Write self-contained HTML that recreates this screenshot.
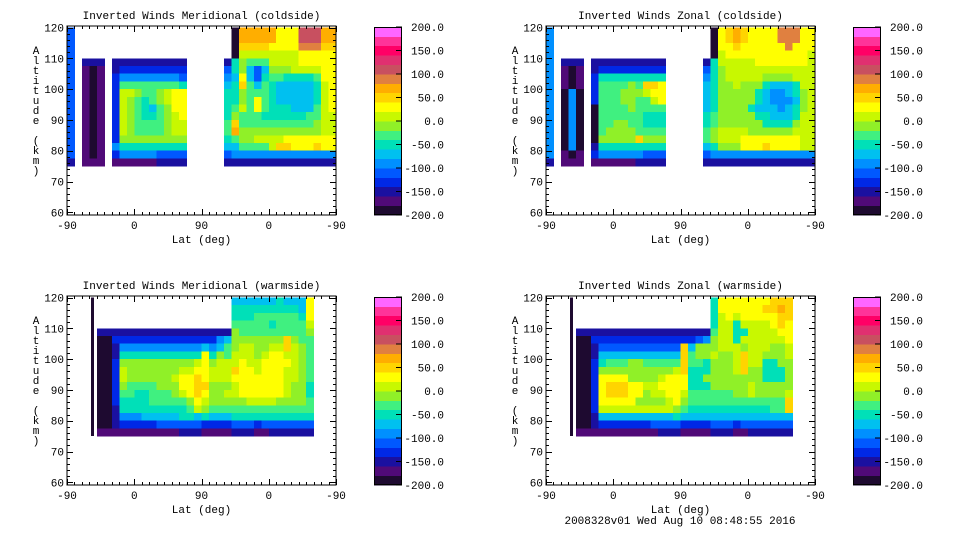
<!DOCTYPE html>
<html><head><meta charset="utf-8"><style>
html,body{margin:0;padding:0;background:#fff;}
svg{display:block;}
text{font-family:"Liberation Mono",monospace;font-size:11px;fill:#000;}
</style></head><body>
<svg id="fig" width="960" height="540" viewBox="0 0 960 540" xmlns="http://www.w3.org/2000/svg">
<rect x="0" y="0" width="960" height="540" fill="#fff"/>
<text x="680" y="524" text-anchor="middle">2008328v01 Wed Aug 10 08:48:55 2016</text>
</svg>
<script>
// level codes a..t => band centres
const levelValues = [-190,-170,-150,-130,-110,-90,-70,-50,-30,-10,10,30,50,70,90,110,130,150,170,190];
const levelColors = ["#1e0a30","#500a78","#1a10a0","#0028e6","#0058ff","#0090ff","#00c0f0","#00e0b8","#40f080","#90f028","#c8f800","#ffff00","#ffd400","#ffae00","#e08040","#c85060","#e03070","#ff0066","#ff3399","#ff66ff"];
const altitudeTicks = [60,70,80,90,100,110,120];
const latTickLabels = ["-90","0","90","0","-90"];
const colorbarTicks = [200,150,100,50,0,-50,-100,-150,-200];
const panelTitles = ["Inverted Winds Meridional (coldside)","Inverted Winds Zonal (coldside)","Inverted Winds Meridional (warmside)","Inverted Winds Zonal (warmside)"];
// thin single-orbit line (degrees along track, top alt, bottom alt) per panel; null = none
const orbitLines = [null, null, [34, 120, 75], [34, 120, 75]];
// grids: 36 lat bins (10 deg) x 18 altitude bins (120 -> 75 km, 2.5 km)
const gridMeridCold = [
"e . ... . .......... ..... . a nnnnnlllpppnn",
"e . ... . .......... ..... . a nnnnnlllpppnn",
"e . ... . .......... ..... . a mmmmllllooomm",
"e . ... . .......... ..... . a kkkkkkkklllll",
"e . ccc . cccccccccc ..... c h jiiikkkklllll",
"e . bab . cddddddddd ..... e h jgegjjjkkkkll",
"e . bab . dffffffffe ..... f g lgehiihhhhill",
"e . bab . diiiiiiiih ..... g h migihggggghkl",
"e . bab . dkkjiijkll ..... h h jiiihggggghkl",
"e . bab . dkjihijkll ..... h h jilihggggghkl",
"e . bab . dkjihgijll ..... h i kilihhhgggikl",
"e . bab . dkjihhijkl ..... h j iiihhhhhhiikk",
"e . bab . dkjiiiijkk ..... i m iiiiiiiiiijkk",
"e . bab . dkjiiiijkk ..... i n jjjjjjjjjjjkk",
"e . bab . djjjjjjjjj ..... h i jjkkkklllllll",
"e . bab . fhhhhhhhhh ..... g g iiiikmmlllmll",
"e . bab . dfffffeeee ..... e f fffffffffffff",
"c . bbb . bbbbbbcccc ..... c c ccccccccccccc"];
const gridZonalCold = [
"f . ... . .......... ..... . a lmnmlllloooll",
"f . ... . .......... ..... . a lmnmlllloooll",
"f . ... . .......... ..... . a llmllllllolll",
"f . ... . .......... ..... . a klllllllllllk",
"f . ccc . cccccccccc ..... c h kkkkklllllllk",
"f . bab . cddddddddd ..... e h jkkkkkkkkkkkk",
"f . bab . dhhhhhhhhh ..... f h jkkkkkjjjjkkk",
"f . bab . diiiijimml ..... g h jjkjjjhggghkk",
"f . afa . diiijjjkll ..... g h jjjjjhgffghjk",
"f . afa . diiijjiikl ..... g h jjjjjhgfffgjk",
"f . afa . aiiiijiiii ..... g h jjjjhgggfghjk",
"f . afa . aiiiiiihhh ..... h i jjjjjhhggghkk",
"f . afa . aiijjiihhh ..... h i jjjjjjhhhhjkk",
"f . afa . aijjjjiiii ..... i j kkkkjjjjjjkkk",
"f . afa . ajjjjjmjjj ..... i j kkkllllllllkk",
"f . afa . chhhhhhhhh ..... g h jjjlllmllllkk",
"f . bab . dffffffeee ..... e f fffffffffffff",
"c . bbb . bbbbbbcccc ..... c c ccccccccccccc"];
const gridMeridWarm = [
"... . .. ............ .... gggggghgggl ...",
"... . .. ............ .... hhhhhhhhhgl ...",
"... . .. ............ .... hhhiiiiiihl ...",
"... . .. ............ .... iiiiihiiiik ...",
"... . cc cccccccccccc cccc jiiiiiiiiij ...",
"... . aa dddddddddddd ddfg jjjjjjjmjii ...",
"... . aa cfffffffffff gfgi jkkjjkkmkji ...",
"... . aa chhhhhhhhhhh lhji kkkjkllkkji ...",
"... . aa djjjjjjjjjjk ljkk klkkllllkji ...",
"... . aa dkjjjjjjjkkl lkkk mllklllkkji ...",
"... . aa dkjjjjjjkllm lkkk lllllllkkji ...",
"... . aa djiiiijjjllm mjjj kllllllkjjh ...",
"... . aa diihhiiijklm ljjk kllllllkjjh ...",
"... . aa dhhhhiiiiijl kjjj jjkkkkjjjji ...",
"... . aa chhhhhhhhhik jiii iiiiiiiiiii ...",
"... . aa cfffggggghhg hggg hhhhhhhhhhh ...",
"... . aa cdddddeeeeee dddd eeedeeeeeee ...",
"... . bb bbbbbbbbbccc bbbb cccbbcccccc ..."];
const gridZonalWarm = [
"... . .. ............ .... hlllllllmmm ...",
"... . .. ............ .... hllllllmmnm ...",
"... . .. ............ .... hklklllllmm ...",
"... . .. ............ .... hkkhkkkklml ...",
"... . cc cccccccccccc cccc ikkhhkkkkll ...",
"... . aa dddddddddddd ddef jkkhkkkkkkl ...",
"... . aa ceeeeeeeeeee mgjj jkkkjkkkjjk ...",
"... . aa cggggggggggg mijj kjjkmkkjjjk ...",
"... . aa dhiiijjiiiii miih jjjkmkkhhjj ...",
"... . aa djjjjjjjjjjk mhhh jjjkmjjhhhj ...",
"... . aa dlllljjjjkll lhhj jjjjjjjhhhj ...",
"... . aa dlmmmllkklll lhhh jjjjjkjjjjj ...",
"... . aa dlmmmlljkkll kiii iiijjkjjjjk ...",
"... . aa dllllljjjjkl jiii iiiiiiiiiim ...",
"... . aa dkkkkkkkkkkj ihhh hhhhhhhhiim ...",
"... . aa cggggggggggh gggg ggggggggggg ...",
"... . aa cdddddddeeee dddd eeedeeeeeee ...",
"... . bb bbbbbbbbbccc bbbb cccbbcccccc ..."];

const panelGrids = [gridMeridCold, gridZonalCold, gridMeridWarm, gridZonalWarm];
const panelOffsets = [[0,0],[479,0],[0,270],[479,270]];
const NS = "http://www.w3.org/2000/svg";
const svg = document.getElementById("fig");

function mk(tag, attrs, parent){
  const e = document.createElementNS(NS, tag);
  for (const k in attrs) e.setAttribute(k, attrs[k]);
  parent.appendChild(e);
  return e;
}
function levelIndex(v){ return Math.max(0, Math.min(19, Math.floor((v + 200) / 20))); }

panelGrids.forEach((grid, p) => {
  const [ox, oy] = panelOffsets[p];
  const X0 = ox + 67, X1 = ox + 336, Y0 = oy + 26, Y1 = oy + 215;
  const xScale = d => X0 + (d / 360) * (X1 - X0);
  const yScale = alt => oy + 27.5 + (120 - alt) * 3.08;
  const g = mk("g", {}, svg);
  
  

  const title = mk("text", {x: (X0 + X1) / 2, y: oy + 19, "text-anchor": "middle"}, g);
  title.textContent = panelTitles[p];
  
  

  const cells = mk("g", {"shape-rendering": "crispEdges"}, g);
  
  
  grid.forEach((rowStr, r) => {
    const row = rowStr.replace(/ /g, "");
    const altTop = 120 - r * 2.5, altBot = altTop - 2.5;
    for (let c = 0; c < row.length; c++) {
      const ch = row[c];
      if (ch === ".") continue;
      const v = levelValues[ch.charCodeAt(0) - 97];
      const x = xScale(c * 10), w = xScale((c + 1) * 10) - x;
      const y = yScale(altTop), h = yScale(altBot) - y;
      const rc = mk("rect", {x: x.toFixed(2), y: y.toFixed(2), width: (w + 0.4).toFixed(2), height: (h + 0.4).toFixed(2), fill: levelColors[levelIndex(v)]}, cells);
      
      
    }
  });
  const ol = orbitLines[p];
  if (ol) {
    const y = yScale(ol[1]);
    const ln = mk("rect", {x: xScale(ol[0]) - 1.5, y: y, width: 3, height: yScale(ol[2]) - y, fill: levelColors[0]}, cells);
    
    
  }

  const frame = mk("rect", {x: X0, y: Y0, width: X1 - X0, height: Y1 - Y0, fill: "none", stroke: "#000", "stroke-width": 1}, g);
  
  

  let tp = "";
  for (let d = 0; d <= 360; d += 10) {
    const x = Math.round(xScale(d)) + 0.5, L = d % 90 === 0 ? 6 : 3;
    tp += `M${x},${Y1}v${-L}M${x},${Y0}v${L}`;
  }
  for (let a = 60; a <= 120; a += 2) {
    const y = Math.round(yScale(a)) + 0.5, L = a % 10 === 0 ? 6 : 3;
    tp += `M${X0},${y}h${L}M${X1},${y}h${-L}`;
  }
  const ticks = mk("path", {d: tp, stroke: "#000", "stroke-width": 1, fill: "none"}, g);
  
  

  altitudeTicks.forEach(a => {
    const t = mk("text", {x: X0 - 3, y: yScale(a) + 4, "text-anchor": "end"}, g);
    t.textContent = a;
    
    
  });
  latTickLabels.forEach((lab, i) => {
    const t = mk("text", {x: xScale(i * 90), y: oy + 229, "text-anchor": "middle"}, g);
    t.textContent = lab;
    
    
  });
  const xt = mk("text", {x: (X0 + X1) / 2, y: oy + 243, "text-anchor": "middle"}, g);
  xt.textContent = "Lat (deg)";
  
  

  const yt = mk("text", {x: ox + 36, y: oy + 54, "text-anchor": "middle"}, g);
  
  
  "Altitude (km)".split("").forEach((ch, i) => {
    const ts = mk("tspan", {x: ox + 36, y: oy + 54 + i * 10}, yt);
    ts.textContent = ch === " " ? "\u00a0" : ch;
  });

  const CB0 = ox + 374, CB1 = ox + 402, CT = oy + 27, CBot = oy + 215;
  const cbY = v => CT + (200 - v) / 400 * (CBot - CT);
  const cb = mk("g", {"shape-rendering": "crispEdges"}, g);
  
  
  levelValues.forEach((v, i) => {
    const y = cbY(v + 10), h = cbY(v - 10) - y;
    const r = mk("rect", {x: CB0, y: y.toFixed(2), width: CB1 - CB0, height: (h + 0.4).toFixed(2), fill: levelColors[i]}, cb);
    
    
  });
  const cbf = mk("rect", {x: CB0 + 0.5, y: CT + 0.5, width: CB1 - CB0 - 1, height: CBot - CT - 1, fill: "none", stroke: "#000"}, g);
  
  
  colorbarTicks.forEach(v => {
    const y = cbY(v);
    const tk = mk("line", {x1: CB1 - 6, x2: CB1, y1: y, y2: y, stroke: "#000"}, g);
    
    
    const t = mk("text", {x: ox + 444, y: y + 4, "text-anchor": "end"}, g);
    t.textContent = v.toFixed(1);
    
    
  });
});
</script>
</body></html>
